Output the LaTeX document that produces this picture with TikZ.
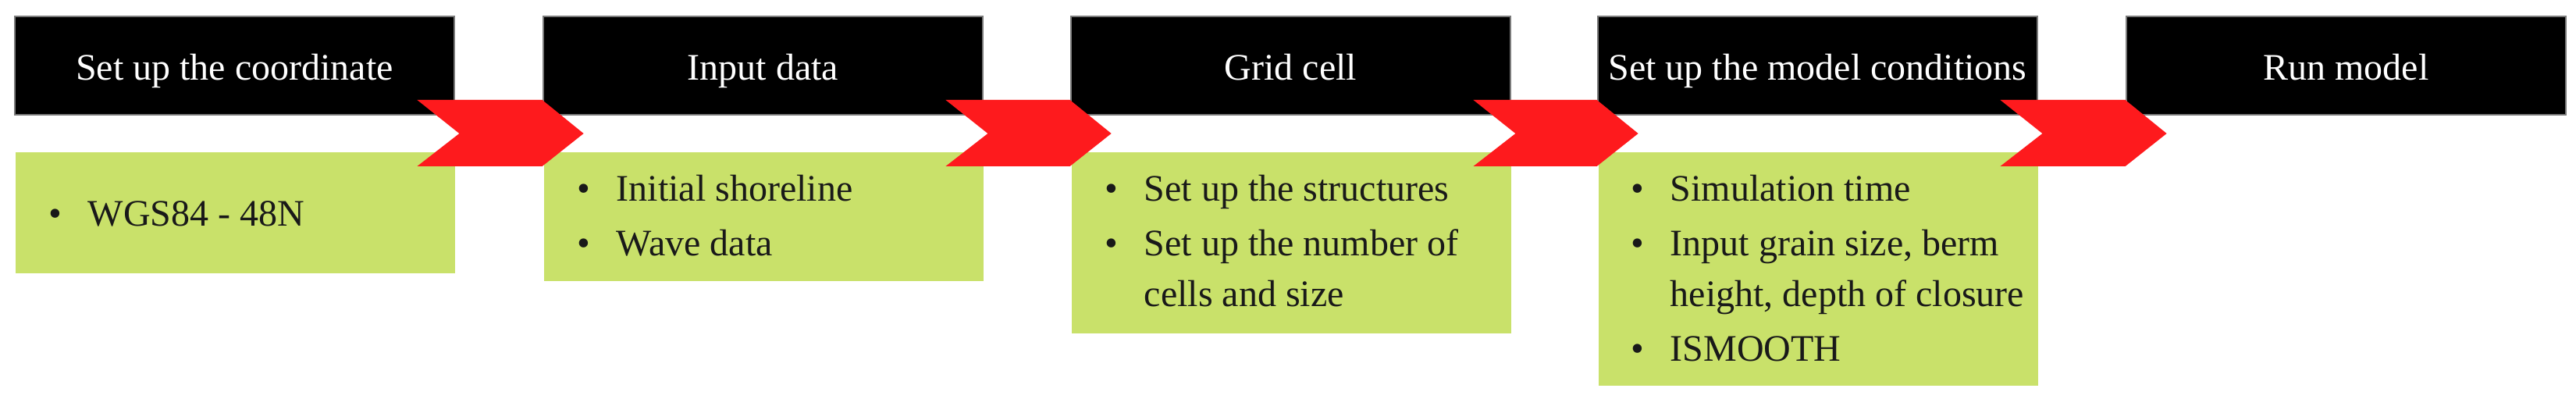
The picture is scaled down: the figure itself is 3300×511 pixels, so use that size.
\documentclass[tikz,border=0pt]{standalone}
\usepackage{fontspec}
\setmainfont{Liberation Serif}
\newfontfamily\tmsfont{Liberation Serif}
\usetikzlibrary{calc}
\definecolor{chevred}{HTML}{FE1A1D}
\definecolor{boxgreen}{HTML}{C9E16A}
\definecolor{hdrborder}{HTML}{7A7A7A}
\begin{document}
\begin{tikzpicture}[x=0.25pt,y=-0.25pt,
  hdr/.style={rectangle, fill=black, draw=hdrborder, line width=0.7pt,
    minimum width=140.75pt, minimum height=31.5pt, inner sep=0pt,
    text=white, font=\tmsfont\fontsize{12}{14}\selectfont,
    text height=9.5pt, text depth=0pt},
  gbox/.style={rectangle, fill=boxgreen, draw=none, anchor=north west,
    minimum width=140.75pt, inner sep=0pt},
  item/.style={anchor=base west, inner sep=0pt, text=black!90,
    font=\tmsfont\fontsize{12}{14}\selectfont},
  chev/.style={fill=chevred, draw=none}]
\useasboundingbox (0,0) rectangle (3300,511);
\fill[white] (0,0) rectangle (3300,511);

% header boxes
\node[hdr] (h1) at (300.5,84) {Set up the coordinate};
\node[hdr] (h2) at (977.5,84) {Input data};
\node[hdr] (h3) at (1653.5,84) {Grid cell};
\node[hdr] (h4) at (2328.5,84) {Set up the model conditions};
\node[hdr] (h5) at (3005.5,84) {Run model};

% green boxes
\node[gbox, minimum height=155*0.25pt] (g1) at (19,194) {};
\node[gbox, minimum height=165*0.25pt] (g2) at (696,194) {};
\node[gbox, minimum height=232*0.25pt] (g3) at (1372,194) {};
\node[gbox, minimum height=299*0.25pt] (g4) at (2047,194) {};

\newcommand{\bul}{\llap{\textbullet\hspace{8.4pt}}}
% items
\node[item] (i1a) at (112,290) {\bul WGS84 - 48N};
\node[item] (i2a) at (789,258) {\bul Initial shoreline};
\node[item] (i2b) at (789,328) {\bul Wave data};
\node[item] (i3a) at (1465,258) {\bul Set up the structures};
\node[item] (i3b) at (1465,328) {\bul Set up the number of};
\node[item] (i3c) at (1465,393) {cells and size};
\node[item] (i4a) at (2139,258) {\bul Simulation time};
\node[item] (i4b) at (2139,328) {\bul Input grain size, berm};
\node[item] (i4c) at (2139,393) {height, depth of closure};
\node[item] (i4d) at (2139,463) {\bul ISMOOTH};

% chevron connectors
\foreach \a/\b in {h1/h2, h2/h3, h3/h4, h4/h5}{
  \fill[chev] ($(\a.east)+(-49,44)$) -- ($(\b.west)+(0,44)$)
    -- ($(\b.west)+(53,87)$) -- ($(\b.west)+(0,129)$)
    -- ($(\a.east)+(-49,129)$) -- ($(\a.east)+(5,87)$) -- cycle;
}
\end{tikzpicture}
\end{document}
